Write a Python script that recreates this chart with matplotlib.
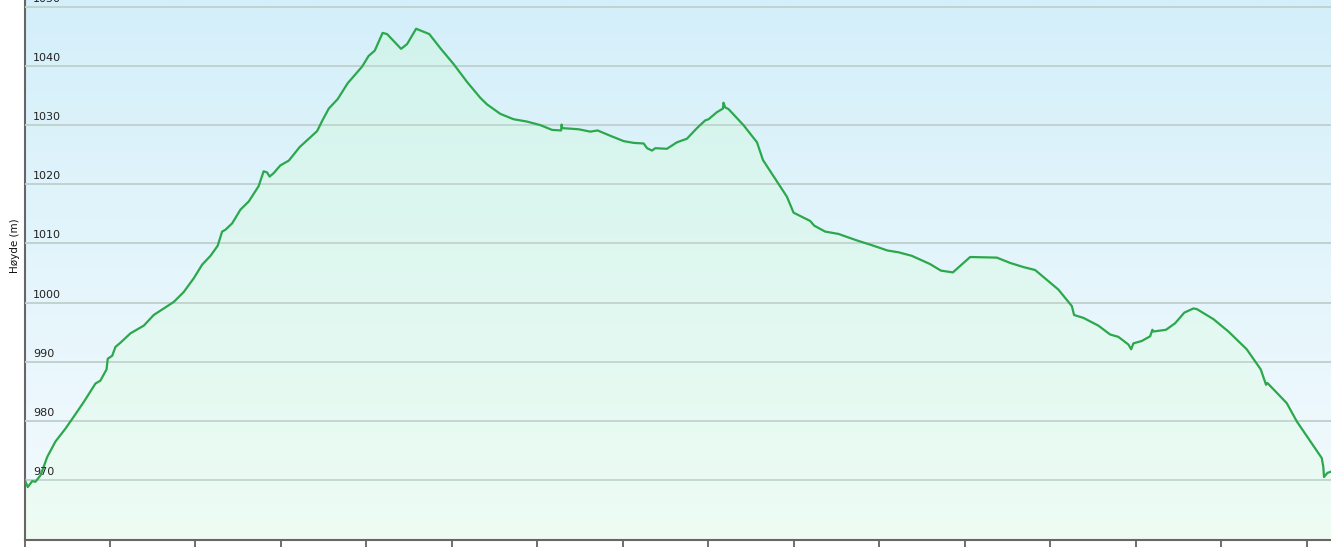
import matplotlib
matplotlib.use("Agg")
import matplotlib.pyplot as plt
import numpy as np
from matplotlib.colors import LinearSegmentedColormap
from matplotlib.transforms import blended_transform_factory

# distance (km) and elevation (m)
dist = [0.000, 0.006, 0.019, 0.045, 0.064, 0.094, 0.133, 0.181, 0.240, 0.288,
        0.347, 0.415, 0.444, 0.480, 0.487, 0.513, 0.532, 0.561, 0.620, 0.698,
        0.756, 0.873, 0.932, 0.990, 1.039, 1.088, 1.130, 1.156, 1.175, 1.215,
        1.263, 1.312, 1.370, 1.399, 1.419, 1.434, 1.458, 1.497, 1.546, 1.610,
        1.712, 1.741, 1.780, 1.832, 1.891, 1.975, 2.013, 2.049, 2.095, 2.121,
        2.203, 2.238, 2.291, 2.368, 2.433, 2.511, 2.589, 2.667, 2.706, 2.784,
        2.861, 2.940, 3.018, 3.086, 3.139, 3.142, 3.146, 3.242, 3.310, 3.353,
        3.427, 3.505, 3.563, 3.622, 3.642, 3.671, 3.690, 3.758, 3.817, 3.875,
        3.934, 3.982, 4.002, 4.051, 4.086, 4.089, 4.099, 4.119, 4.206, 4.285,
        4.320, 4.460, 4.499, 4.596, 4.620, 4.684, 4.762, 4.870, 4.957, 5.049,
        5.113, 5.191, 5.298, 5.361, 5.431, 5.532, 5.688, 5.766, 5.844, 5.912,
        5.937, 6.048, 6.127, 6.140, 6.195, 6.282, 6.351, 6.399, 6.458, 6.474,
        6.487, 6.536, 6.585, 6.598, 6.604, 6.678, 6.731, 6.785, 6.838, 6.858,
        6.955, 7.043, 7.150, 7.232, 7.263, 7.271, 7.384, 7.443, 7.589, 7.598,
        7.602, 7.622, 7.643]
elev = [970.0, 969.7, 968.8, 969.8, 969.7, 970.8, 973.9, 976.5, 978.7, 980.7,
        983.2, 986.3, 986.8, 988.7, 990.5, 991.0, 992.5, 993.2, 994.8, 996.1,
        997.9, 1000.1, 1001.8, 1004.1, 1006.4, 1007.9, 1009.6, 1012.0, 1012.3, 1013.4,
        1015.7, 1017.1, 1019.7, 1022.2, 1022.0, 1021.3, 1021.9, 1023.2, 1024.0, 1026.3,
        1029.0, 1030.7, 1032.8, 1034.4, 1037.1, 1039.9, 1041.7, 1042.6, 1045.6, 1045.4,
        1042.9, 1043.7, 1046.3, 1045.4, 1043.0, 1040.3, 1037.3, 1034.6, 1033.5, 1031.9,
        1031.0, 1030.6, 1030.0, 1029.2, 1029.1, 1030.1, 1029.5, 1029.3, 1028.9, 1029.1,
        1028.2, 1027.3, 1027.0, 1026.9, 1026.1, 1025.7, 1026.1, 1026.0, 1027.1, 1027.7,
        1029.5, 1030.8, 1031.0, 1032.2, 1032.8, 1033.8, 1033.0, 1032.7, 1030.0, 1027.1,
        1024.1, 1017.9, 1015.2, 1013.8, 1013.0, 1012.0, 1011.6, 1010.5, 1009.7, 1008.8,
        1008.5, 1007.9, 1006.5, 1005.4, 1005.1, 1007.7, 1007.6, 1006.7, 1006.0, 1005.5,
        1004.9, 1002.2, 999.4, 997.9, 997.4, 996.1, 994.6, 994.2, 992.9, 992.1,
        993.1, 993.5, 994.3, 995.4, 995.1, 995.4, 996.5, 998.3, 999.0, 998.9,
        997.2, 995.1, 992.1, 988.7, 986.1, 986.4, 983.0, 979.9, 973.7, 972.2,
        970.5, 971.2, 971.4]

ytick_vals = [970, 980, 990, 1000, 1010, 1020, 1030, 1040, 1050]
xtick_vals = np.arange(0, 7.6, 0.5)

x0, x1 = 0, 7.643
y0, y1 = 959.85, 1051.16

fig = plt.figure(figsize=(13.31, 5.47), dpi=100)
fig.patch.set_facecolor('white')
ax = fig.add_axes([24.5 / 1331, 7 / 547, 1 - 24.5 / 1331, 540 / 547])

# background gradient
bg = LinearSegmentedColormap.from_list('bg', ['#f4fbfd', '#d4effa'])
grad = np.linspace(0, 1, 256).reshape(-1, 1)
ax.imshow(grad, cmap=bg, origin='lower', aspect='auto',
          extent=[x0, x1, y0, y1], zorder=0)

for v in ytick_vals:
    ax.axhline(v, color='#bfcbd1', lw=1.3, zorder=1)

# filled area with its own gradient
fg = LinearSegmentedColormap.from_list('fg', ['#eefcf4', '#d0f3ec'])
poly = ax.fill_between(dist, elev, y0, color='none', lw=0, zorder=2)
im = ax.imshow(grad, cmap=fg, origin='lower', aspect='auto',
               extent=[x0, x1, y0, y1], zorder=2)
im.set_clip_path(poly.get_paths()[0], transform=ax.transData)

for v in ytick_vals:
    ax.axhline(v, color='#c3d3cf', lw=1.3, zorder=3)

ax.plot(dist, elev, color='#2ba84c', lw=1.6, zorder=4)

trans = blended_transform_factory(ax.transAxes, ax.transData)
for v in ytick_vals:
    ax.text(8.5 / 1306.5, v + 0.5, str(v), transform=trans, fontsize=8,
            color='#222222', ha='left', va='bottom', zorder=5)

ax.set_xlim(x0, x1)
ax.set_ylim(y0, y1)
ax.set_xticks(xtick_vals)
ax.set_xticklabels([])
ax.set_yticks([])
ax.tick_params(axis='x', direction='out', length=7, width=1.2, color='#555555')
for s in ['top', 'right']:
    ax.spines[s].set_visible(False)
ax.spines['left'].set_color('#666666')
ax.spines['left'].set_linewidth(1.5)
ax.spines['bottom'].set_color('#666666')
ax.spines['bottom'].set_linewidth(1.5)

fig.text(15 / 1331, 1 - 246 / 547, 'Høyde (m)', rotation=90, fontsize=7.5,
         color='#111111', ha='center', va='center')

plt.savefig('out.png', dpi=100)
plt.close(fig)
